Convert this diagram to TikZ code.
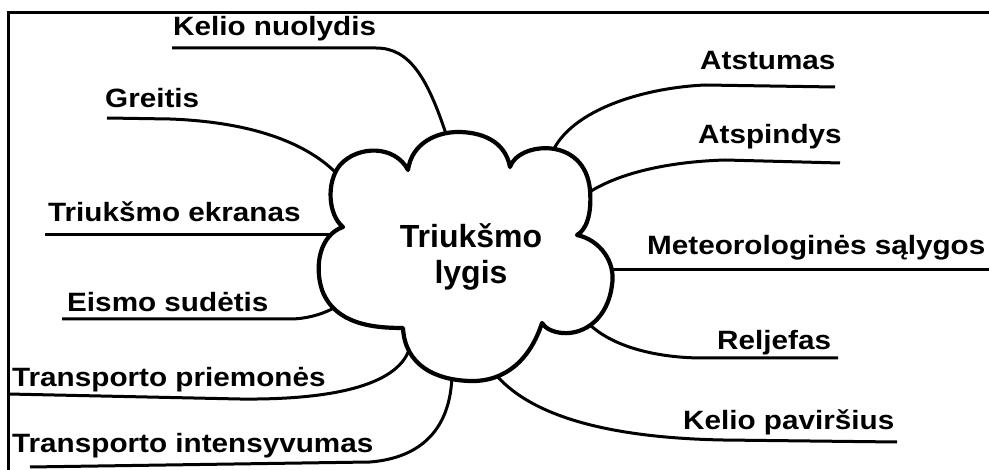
\documentclass[tikz,border=0pt]{standalone}
\usepackage{fontspec}
\setmainfont{Liberation Sans}
\newfontfamily\lblfont[FakeStretch=1.12]{Liberation Sans}

\begin{document}
\begin{tikzpicture}[x=1pt,y=1pt,yscale=-1,
  branch/.style={line width=3pt},
  lbl/.style={anchor=base west,inner sep=0pt,font=\lblfont\bfseries\fontsize{26.5}{30}\selectfont},
  cloudline/.style={line width=4.2pt,line join=round,fill=white}]
\useasboundingbox (0,0) rectangle (989,470);

%Frame
\draw [line width=3pt] (8,470) -- (8,13) -- (989,13) ;

% Text Node
\node [lbl] (kn) at (173,36) {Kelio nuolydis};
% Text Node
\node [lbl] (gr) at (105,108) {Greitis};
% Text Node
\node [lbl] (te) at (48,222) {Triukšmo ekranas};
% Text Node
\node [lbl] (es) at (67,312) {Eismo sudėtis};
% Text Node
\node [lbl] (tp) at (12,387) {Transporto priemonės};
% Text Node
\node [lbl] (ti) at (12,453) {Transporto intensyvumas};
% Text Node
\node [lbl] (at) at (700,70) {Atstumas};
% Text Node
\node [lbl] (as) at (698,144) {Atspindys};
% Text Node
\node [lbl] (ms) at (647,255) {Meteorologinės sąlygos};
% Text Node
\node [lbl] (rj) at (717,350) {Reljefas};
% Text Node
\node [lbl] (kp) at (683,430) {Kelio paviršius};

%Underline ends
\coordinate (u-kn) at (172,48);   \coordinate (v-kn) at (376,48);
\coordinate (u-gr) at (107,118);  \coordinate (v-gr) at (170,119);
\coordinate (u-te) at (45,235);
\coordinate (u-es) at (62,319);   \coordinate (v-es) at (290,319);
\coordinate (u-tp) at (8,394);    \coordinate (v-tp) at (240,399);
\coordinate (u-ti) at (30,467);   \coordinate (v-ti) at (370,462);
\coordinate (u-at) at (835,87);   \coordinate (v-at) at (705,85);
\coordinate (u-as) at (840,163);  \coordinate (v-as) at (725,160);
\coordinate (u-ms) at (989,270);
\coordinate (u-rj) at (838,358);  \coordinate (v-rj) at (703,358);
\coordinate (u-kp) at (897,442);  \coordinate (v-kp) at (723,440);

%Cloud points
\coordinate (c-kn) at (448,140);
\coordinate (c-gr) at (340,177);
\coordinate (c-te) at (332,235);
\coordinate (c-es) at (332,309);
\coordinate (c-tp) at (409,350);
\coordinate (c-ti) at (452,374);
\coordinate (c-at) at (550,158);
\coordinate (c-as) at (585,195);
\coordinate (c-ms) at (605,270);
\coordinate (c-rj) at (587,322);
\coordinate (c-kp) at (492,370);

%Curve Lines
\draw [branch] (u-kn) -- (v-kn) .. controls (410,48) and (428,78) .. (c-kn) ;
\draw [branch] (u-gr) -- (v-gr) .. controls (250,122) and (308,142) .. (c-gr) ;
\draw [branch] (u-te) -- (c-te) ;
\draw [branch] (u-es) -- (v-es) .. controls (305,319) and (320,315) .. (c-es) ;
\draw [branch] (u-tp) -- (v-tp) .. controls (330,400) and (396,386) .. (c-tp) ;
\draw [branch] (u-ti) -- (v-ti) .. controls (420,458) and (451,430) .. (c-ti) ;
\draw [branch] (u-at) -- (v-at) .. controls (640,88) and (565,112) .. (c-at) ;
\draw [branch] (u-as) -- (v-as) .. controls (660,162) and (612,176) .. (c-as) ;
\draw [branch] (u-ms) -- (c-ms) ;
\draw [branch] (u-rj) -- (v-rj) .. controls (660,358) and (612,348) .. (c-rj) ;
\draw [branch] (u-kp) -- (v-kp) .. controls (620,438) and (530,420) .. (c-kp) ;

%Cloud
\draw [cloudline] (343,227)
  .. controls (328,215) and (326,182) .. (340,165)
  .. controls (358,145) and (395,145) .. (408,170)
  .. controls (412,142) and (438,132) .. (458,132)
  .. controls (480,132) and (505,140) .. (510,167)
  .. controls (518,142) and (585,135) .. (590,190)
  .. controls (592,215) and (586,230) .. (577,235)
  .. controls (600,240) and (616,262) .. (612,285)
  .. controls (608,318) and (585,335) .. (562,333)
  .. controls (552,332) and (545,328) .. (542,323)
  .. controls (530,360) and (505,382) .. (470,381)
  .. controls (435,380) and (405,365) .. (403,328)
  .. controls (375,328) and (335,325) .. (322,290)
  .. controls (314,265) and (320,235) .. cycle ;

% Text Node
\node [align=center,inner sep=0pt,font=\fontsize{32}{36}\selectfont\bfseries] (lvl) at (471,257) {Triukšmo\\lygis};

\end{tikzpicture}
\end{document}
